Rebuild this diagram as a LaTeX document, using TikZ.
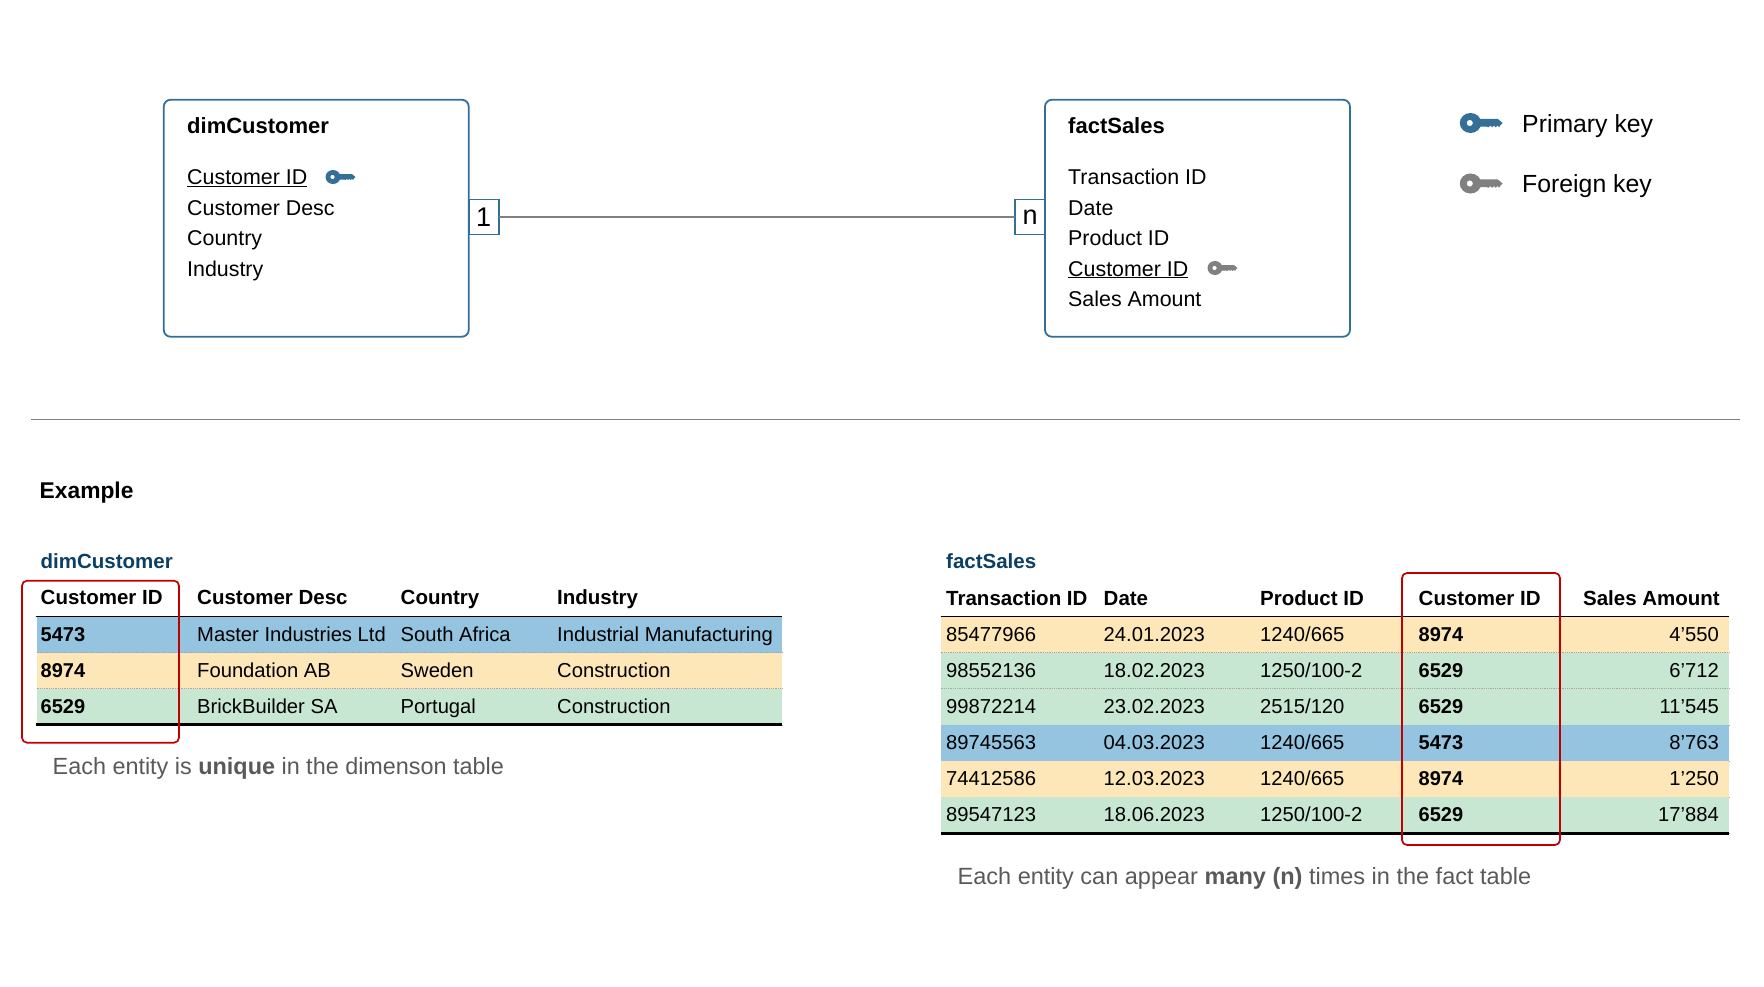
\documentclass[tikz,border=0pt]{standalone}
\usepackage{fontspec}
\setmainfont{Liberation Sans}

\definecolor{keyblue}{HTML}{336F97}
\definecolor{keygray}{HTML}{808080}
\definecolor{titleblue}{HTML}{0B3F63}
\definecolor{rowblue}{HTML}{94C4E0}
\definecolor{roworange}{HTML}{FDE6B8}
\definecolor{rowgreen}{HTML}{C8E7D2}
\definecolor{markred}{HTML}{C00000}
\definecolor{notegray}{HTML}{595959}

\tikzset{
    entitybox/.style={draw=keyblue, line width=1.8pt, rounded corners=7pt, minimum width=305pt, minimum height=237pt, outer sep=0pt},
    cardbox/.style={draw=keyblue, line width=1.8pt, fill=white, minimum width=30pt, minimum height=35pt, inner sep=0pt, outer sep=0pt, font=\fontsize{27}{30}\selectfont},
    entitytitle/.style={anchor=base west, inner sep=0pt, font=\fontsize{22}{28}\selectfont\bfseries},
    attr/.style={anchor=base west, inner sep=0pt, font=\fontsize{21.4}{26}\selectfont},
    legendtext/.style={anchor=base west, inner sep=0pt, font=\fontsize{24.8}{30}\selectfont},
    headcell/.style={anchor=base west, inner sep=0pt, font=\fontsize{20.5}{24}\selectfont\bfseries},
    cell/.style={anchor=base west, inner sep=0pt, font=\fontsize{20.2}{24}\selectfont},
    tabletitle/.style={anchor=base west, inner sep=0pt, text=titleblue, font=\fontsize{20.5}{24}\selectfont\bfseries},
    notetext/.style={anchor=base west, inner sep=0pt, text=notegray, font=\fontsize{23.4}{28}\selectfont},
    markbox/.style={draw=markred, line width=1.7pt, rounded corners=5pt},
    keyicon/.pic={
        \path[pic actions, even odd rule] (0,0) ellipse (7.5 and 7) (-0.5,0) circle (2.2);
        \path[pic actions] (5,-2.9) -- (19,-2.9) -- (22.5,0) -- (21,1.4) -- (20,3) -- (19,1.8) -- (17.5,3) -- (16.5,1.8) -- (15,3) -- (14,1.8) -- (12.5,3) -- (11.5,2.6) -- (5,2.6) -- cycle;
    }
}

\begin{document}
\begin{tikzpicture}[x=1pt, y=-1pt]
    \useasboundingbox (0,0) rectangle (1764,987);

    % entity boxes
    \node[entitybox] (dimbox) at (316.25,218.25) {};
    \node[entitybox] (factbox) at (1197.5,218.25) {};
    \node[cardbox, anchor=west] (onebox) at (dimbox.east |- 0,217) {1};
    \node[cardbox, anchor=east] (nbox) at (factbox.west |- 0,217) {n};
    \draw[keygray, line width=1.3pt] (onebox) -- (nbox);

    \node[entitytitle] (dimtitle) at (187,134) {dimCustomer};
    \node[attr] (dimid) at (187,184.5) {\underline{Customer ID}};
    \foreach \y/\txt [count=\n] in {215/Customer Desc, 245/Country, 276/Industry}{
        \node[attr] (dimattr\n) at (187,\y) {\txt};
    }
    \pic[fill=keyblue] at (333,177) {keyicon};

    \node[entitytitle] (facttitle) at (1068,134) {factSales};
    \foreach \y/\txt [count=\n] in {184.5/Transaction ID, 215/Date, 245/Product ID, 306/Sales Amount}{
        \node[attr] (factattr\n) at (1068,\y) {\txt};
    }
    \node[attr] (factid) at (1068,276) {\underline{Customer ID}};
    \pic[fill=keygray] at (1215,268) {keyicon};

    % legend
    \pic[fill=keyblue, scale=1.43] at (1470.5,123) {keyicon};
    \pic[fill=keygray, scale=1.43] at (1470.5,183.5) {keyicon};
    \node[legendtext] (primary) at (1522,133) {Primary key};
    \node[legendtext] (foreign) at (1522,193) {Foreign key};

    \draw[keygray, line width=1.2pt] (31,419.5) -- (1740,419.5);
    \node[entitytitle, font=\fontsize{22.8}{30}\selectfont\bfseries] (example) at (39.5,498) {Example};

    % left table
    \node[tabletitle] (dimname) at (40.5,568) {dimCustomer};
    \foreach \x/\txt [count=\n] in {40.5/Customer ID, 197/Customer Desc, 400.5/Country, 557/Industry}{
        \node[headcell] (dimhead\n) at (\x,604.5) {\txt};
    }
    \foreach \y/\col/\a/\b/\c/\d [count=\n] in {
        616.7/rowblue/5473/Master Industries Ltd/South Africa/Industrial Manufacturing,
        652.7/roworange/8974/Foundation AB/Sweden/Construction,
        689.2/rowgreen/6529/BrickBuilder SA/Portugal/Construction}{
        \fill[\col] (36.5,\y) rectangle (782,\y+36);
        \draw[black!35, line width=0.8pt, densely dotted] (36.5,\y+36) -- (782,\y+36);
        \node[cell, font=\fontsize{20}{24}\selectfont\bfseries] (dimcell\n a) at (40.5,\y+24.4) {\a};
        \node[cell] (dimcell\n b) at (197,\y+24.4) {\b};
        \node[cell] (dimcell\n c) at (400.5,\y+24.4) {\c};
        \node[cell] (dimcell\n d) at (557,\y+24.4) {\d};
    }
    \draw[black, line width=1.2pt] (35.5,616.7) -- (782,616.7);
    \draw[black, line width=2.6pt] (35.5,724.5) -- (782,724.5);
    \draw[markbox] (22,580.7) rectangle (179,742.7);
    \node[notetext] (dimnote) at (52.5,774) {Each entity is \textbf{unique} in the dimenson table};

    % right table
    \node[tabletitle] (factname) at (946,568) {factSales};
    \foreach \x/\txt [count=\n] in {946/Transaction ID, 1103.5/Date, 1260/Product ID, 1418.5/Customer ID}{
        \node[headcell] (facthead\n) at (\x,605) {\txt};
    }
    \node[headcell, anchor=base east] (facthead5) at (1720,605) {Sales Amount};
    \foreach \y/\col/\a/\b/\c/\d/\e [count=\n] in {
        616.5/roworange/85477966/24.01.2023/{1240/665}/8974/4’550,
        652.5/rowgreen/98552136/18.02.2023/{1250/100-2}/6529/6’712,
        688.7/rowgreen/99872214/23.02.2023/{2515/120}/6529/11’545,
        725/rowblue/89745563/04.03.2023/{1240/665}/5473/8’763,
        761/roworange/74412586/12.03.2023/{1240/665}/8974/1’250,
        797.3/rowgreen/89547123/18.06.2023/{1250/100-2}/6529/17’884}{
        \fill[\col] (940.5,\y) rectangle (1729,\y+36.3);
        \draw[black!35, line width=0.8pt, densely dotted] (940.5,\y+36.3) -- (1729,\y+36.3);
        \node[cell] (factcell\n a) at (946,\y+24.6) {\a};
        \node[cell] (factcell\n b) at (1103.5,\y+24.6) {\b};
        \node[cell] (factcell\n c) at (1260,\y+24.6) {\c};
        \node[cell, font=\fontsize{20}{24}\selectfont\bfseries] (factcell\n d) at (1418.5,\y+24.6) {\d};
        \node[cell, anchor=base east] (factcell\n e) at (1719,\y+24.6) {\e};
    }
    \draw[black, line width=1.2pt] (940.5,616.3) -- (1729,616.3);
    \draw[black, line width=2.6pt] (940.5,833.5) -- (1729,833.5);
    \draw[markbox] (1402,573) rectangle (1560,845);
    \node[notetext, font=\fontsize{23.5}{28}\selectfont] (factnote) at (957.5,884) {Each entity can appear \textbf{many (n)} times in the fact table};
\end{tikzpicture}
\end{document}
